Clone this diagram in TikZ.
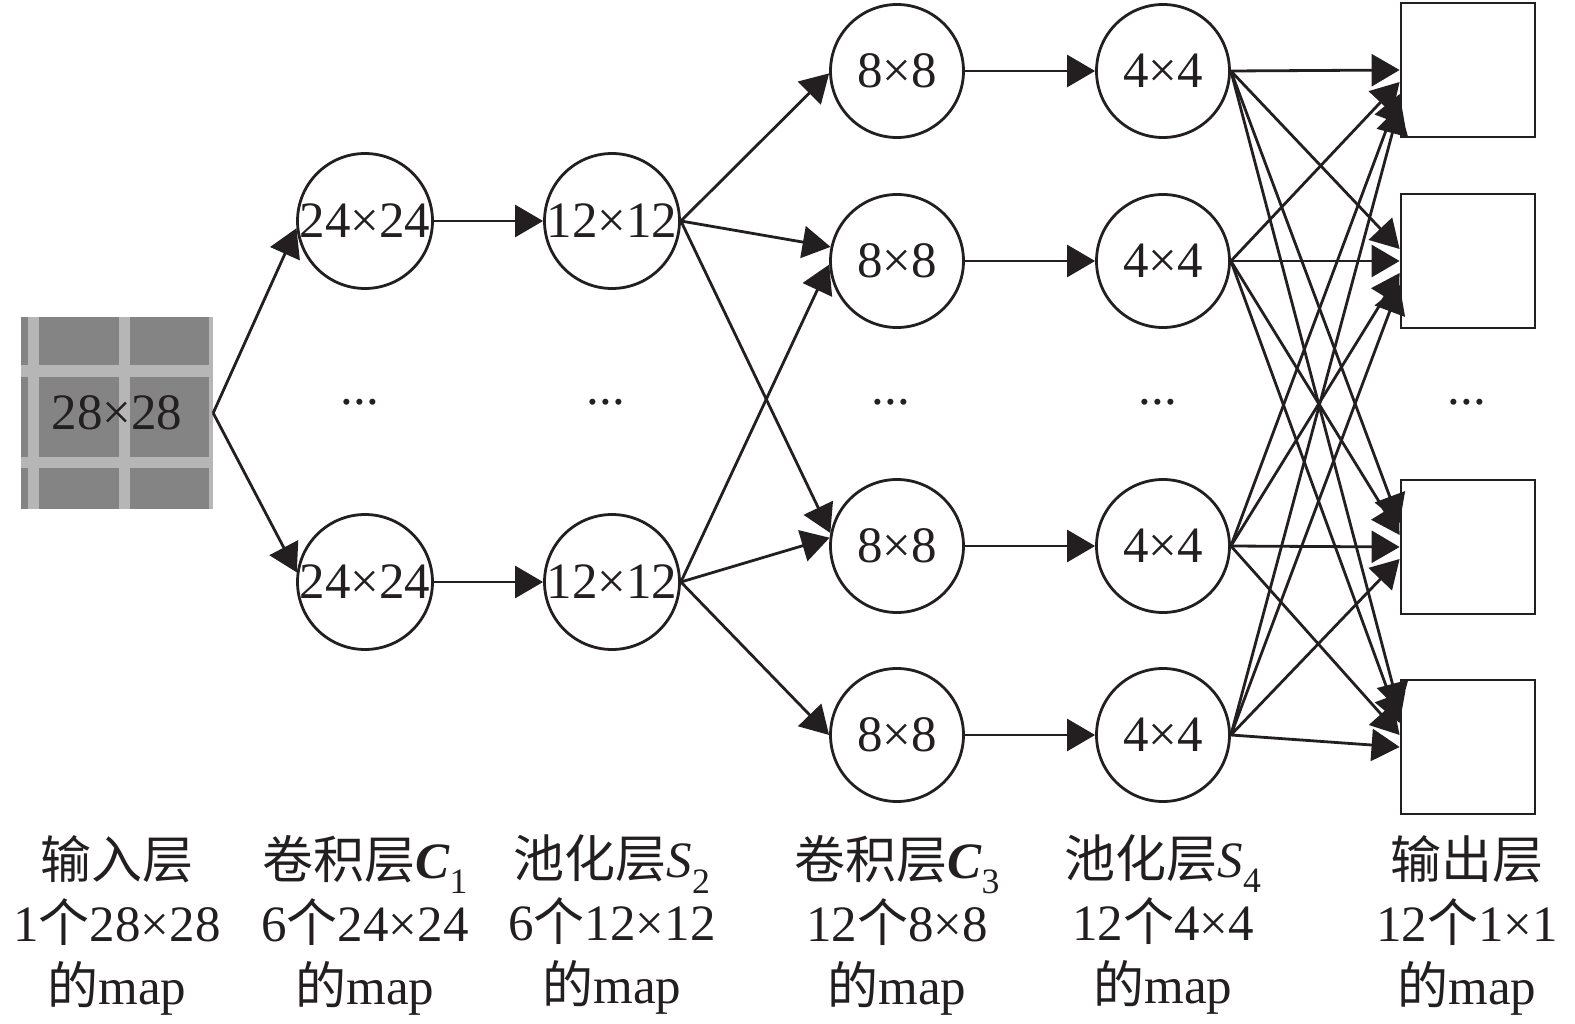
\documentclass[tikz,border=0pt]{standalone}
\usepackage{fontspec}
\setmainfont{Liberation Serif}
\newfontfamily\cjk{Noto Sans CJK SC}
\usepackage{xcolor}
\usepackage{tikz}
\usetikzlibrary{positioning, arrows.meta, calc}

\definecolor{mapdark}{RGB}{132,132,132}
\definecolor{maplight}{RGB}{182,182,182}
\definecolor{inkblack}{RGB}{35,31,32}
\newcommand{\bigtext}{\fontsize{51}{63}\selectfont}

\tikzset{
  fmap/.style={circle, draw=inkblack, line width=2.8pt, minimum size=133pt, inner sep=0pt, font=\bigtext, text=inkblack},
  outmap/.style={rectangle, draw=inkblack, line width=2.8pt, minimum size=134pt, inner sep=0pt},
  conn/.style={draw=inkblack, line width=2.8pt, -{Triangle[length=28pt,width=32pt]}},
  layerlabel/.style={align=center, font=\bigtext, text=inkblack},
  moredots/.style={anchor=base, font=\bigtext, text=inkblack},
}

\begin{document}
\begin{tikzpicture}[x=1pt,y=-1pt]
        \useasboundingbox (0,0) rectangle (1575,1024);

        % Input map with its grid
        \fill[mapdark] (21,317) rectangle (213,509);
        \fill[maplight] (28,317) rectangle (39,509);
        \fill[maplight] (119,317) rectangle (130,509);
        \fill[maplight] (209,317) rectangle (213,509);
        \fill[maplight] (21,365) rectangle (213,377);
        \fill[maplight] (21,457) rectangle (213,468);
        \node (in) [minimum size=192pt, inner sep=0pt, font=\bigtext, text=inkblack] at (117,413) {28×28};

        % Convolution layer C1 and pooling layer S2
        \node (c1a) [fmap] at (365,221) {24×24};
        \node (c1b) [fmap] at (365,582) {24×24};
        \node (s2a) [fmap] at (612,221) {12×12};
        \node (s2b) [fmap] at (612,582) {12×12};

        % Convolution layer C3, pooling layer S4 and outputs
        \node (c3-1) [fmap] at (897,71) {8×8};
        \node (c3-2) [fmap] at (897,261) {8×8};
        \node (c3-3) [fmap] at (897,546) {8×8};
        \node (c3-4) [fmap] at (897,735) {8×8};
        \node (s4-1) [fmap] at (1163,71) {4×4};
        \node (s4-2) [fmap] at (1163,261) {4×4};
        \node (s4-3) [fmap] at (1163,546) {4×4};
        \node (s4-4) [fmap] at (1163,735) {4×4};
        \node (out-1) [outmap] at (1468,70) {};
        \node (out-2) [outmap] at (1468,261) {};
        \node (out-3) [outmap] at (1468,547) {};
        \node (out-4) [outmap] at (1468,747) {};

        % Omitted maps
        \node (dots1) [moredots] at (360,404) {...};
        \node (dots2) [moredots] at (606,404) {...};
        \node (dots3) [moredots] at (891,404) {...};
        \node (dots4) [moredots] at (1158,404) {...};
        \node (dots5) [moredots] at (1467,404) {...};

        % Connections
        \draw[conn] (in.east) -- (c1a.186);
        \draw[conn] (in.east) -- (c1b.172);
        \draw[conn] (c1a.east) -- (s2a.west);
        \draw[conn] (c1b.east) -- (s2b.west);
        \draw[conn] (s2a.east) -- (c3-1.182);
        \draw[conn] (s2a.east) -- (c3-2.168);
        \draw[conn] (s2a.east) -- (c3-3.169);
        \draw[conn] (s2b.east) -- (c3-2.183);
        \draw[conn] (s2b.east) -- (c3-3.173);
        \draw[conn] (s2b.east) -- (c3-4.west);
        \foreach \i in {1,...,4}
            \draw[conn] (c3-\i.east) -- (s4-\i.west);
        % Full connection to the output layer
        \foreach \i in {1,...,4}
            \foreach \j in {1,...,4}
                \draw[conn] (s4-\i.east) -- ($(out-\j.west)+(0,{12*(\i-\j)})$);

        % Layer labels
        \node (lab0) [layerlabel] at (117,925) {{\cjk 输入层}\\1{\cjk 个}28×28\\{\cjk 的}map};
        \node (lab1) [layerlabel] at (365,925) {{\cjk 卷积层}\textbf{\textit{C}}\textsubscript{1}\\6{\cjk 个}24×24\\{\cjk 的}map};
        \node (lab2) [layerlabel] at (612,925) {{\cjk 池化层}\textit{S}\textsubscript{2}\\6{\cjk 个}12×12\\{\cjk 的}map};
        \node (lab3) [layerlabel] at (897,925) {{\cjk 卷积层}\textbf{\textit{C}}\textsubscript{3}\\12{\cjk 个}8×8\\{\cjk 的}map};
        \node (lab4) [layerlabel] at (1163,925) {{\cjk 池化层}\textit{S}\textsubscript{4}\\12{\cjk 个}4×4\\{\cjk 的}map};
        \node (lab5) [layerlabel] at (1467,925) {{\cjk 输出层}\\12{\cjk 个}1×1\\{\cjk 的}map};
\end{tikzpicture}
\end{document}
